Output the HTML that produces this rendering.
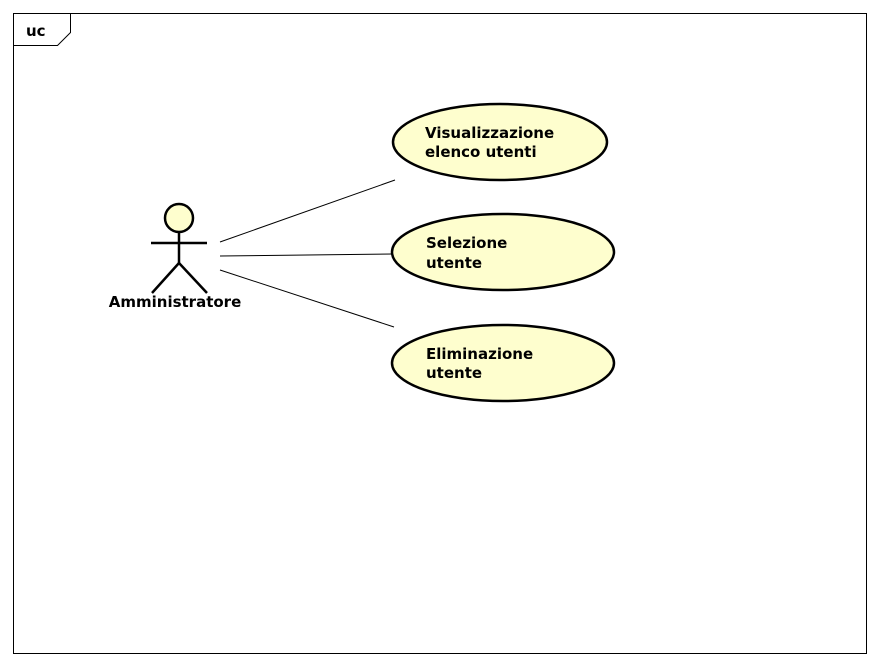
<!DOCTYPE html>
<html><head><style>body{margin:0;background:#fff}</style></head><body>
<svg width="880" height="666" xmlns="http://www.w3.org/2000/svg" font-family="DejaVu Sans, sans-serif" font-size="15" font-weight="bold">
<rect x="13.5" y="13.5" width="853" height="640" fill="#fff" stroke="#000"/>
<path d="M13.5 45.5 H57.5 L70.5 32.5 V13.5" fill="none" stroke="#000"/>
<text x="26" y="36">uc</text>
<g stroke="#000" stroke-width="2.5" fill="none">
<circle cx="179" cy="218" r="14" fill="#fefece"/>
<line x1="151" y1="243" x2="207" y2="243"/>
<line x1="179" y1="232" x2="179" y2="263"/>
<line x1="179" y1="263" x2="152" y2="293"/>
<line x1="179" y1="263" x2="207" y2="293"/>
</g>
<text x="175" y="307" text-anchor="middle">Amministratore</text>
<g stroke="#000" stroke-width="1">
<line x1="220" y1="242" x2="395" y2="180"/>
<line x1="220" y1="256" x2="393" y2="254"/>
<line x1="220" y1="270" x2="394" y2="327"/>
</g>
<g fill="#fefece" stroke="#000" stroke-width="2.5">
<ellipse cx="500" cy="142" rx="107" ry="38"/>
<ellipse cx="503" cy="252" rx="111" ry="38"/>
<ellipse cx="503" cy="363" rx="111" ry="38"/>
</g>
<text x="425" y="138">Visualizzazione</text>
<text x="425" y="157">elenco utenti</text>
<text x="426" y="248">Selezione</text>
<text x="426" y="268">utente</text>
<text x="426" y="359">Eliminazione</text>
<text x="426" y="378">utente</text>
</svg>
</body></html>
